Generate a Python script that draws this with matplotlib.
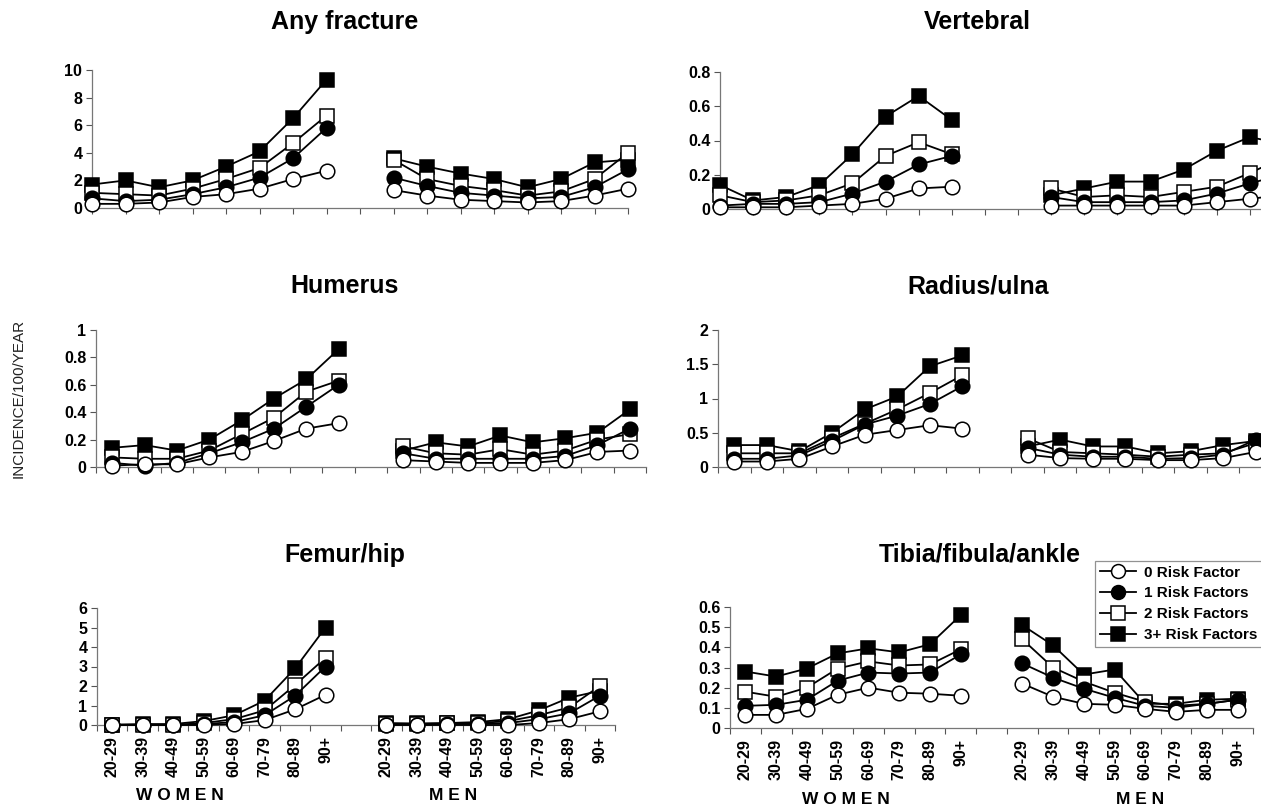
import matplotlib
matplotlib.use('Agg')
import matplotlib.pyplot as plt
from matplotlib.lines import Line2D

plt.rcParams['font.family'] = ['Liberation Sans', 'DejaVu Sans']

W, H = 1261, 807

ages = ['20-29', '30-39', '40-49', '50-59', '60-69', '70-79', '80-89', '90+']
series = ['0 Risk Factor', '1 Risk Factors', '2 Risk Factors', '3+ Risk Factors']

# rows: 0, 1, 2, 3+ risk factors
any_women = [[0.3, 0.3, 0.4, 0.8, 1.0, 1.4, 2.1, 2.7],
             [0.7, 0.5, 0.6, 1.0, 1.5, 2.2, 3.6, 5.8],
             [1.1, 1.0, 0.9, 1.4, 2.1, 2.9, 4.7, 6.7],
             [1.7, 2.0, 1.5, 2.0, 3.0, 4.1, 6.5, 9.3]]
any_men = [[1.3, 0.9, 0.6, 0.5, 0.4, 0.5, 0.9, 1.4],
           [2.2, 1.6, 1.1, 0.9, 0.7, 0.8, 1.5, 2.8],
           [3.5, 2.1, 1.6, 1.3, 0.9, 1.2, 2.1, 4.0],
           [3.6, 3.0, 2.5, 2.1, 1.5, 2.1, 3.3, 3.5]]

vert_women = [[0.01, 0.01, 0.01, 0.02, 0.03, 0.06, 0.12, 0.13],
              [0.02, 0.03, 0.03, 0.04, 0.09, 0.16, 0.26, 0.31],
              [0.08, 0.04, 0.05, 0.08, 0.15, 0.31, 0.39, 0.32],
              [0.14, 0.05, 0.07, 0.14, 0.32, 0.54, 0.66, 0.52]]
vert_men = [[0.02, 0.02, 0.02, 0.02, 0.02, 0.04, 0.06, 0.08],
            [0.07, 0.04, 0.04, 0.04, 0.05, 0.09, 0.15, 0.20],
            [0.12, 0.07, 0.08, 0.07, 0.10, 0.13, 0.21, 0.30],
            [0.08, 0.12, 0.16, 0.16, 0.23, 0.34, 0.42, 0.38]]

hum_women = [[0.01, 0.02, 0.02, 0.07, 0.11, 0.19, 0.28, 0.32],
             [0.03, 0.01, 0.03, 0.10, 0.18, 0.28, 0.44, 0.60],
             [0.07, 0.06, 0.06, 0.12, 0.24, 0.36, 0.55, 0.63],
             [0.14, 0.16, 0.12, 0.20, 0.34, 0.50, 0.64, 0.86]]
hum_men = [[0.05, 0.04, 0.03, 0.03, 0.03, 0.05, 0.11, 0.12],
           [0.10, 0.06, 0.06, 0.06, 0.06, 0.08, 0.16, 0.28],
           [0.15, 0.10, 0.09, 0.13, 0.09, 0.12, 0.20, 0.24],
           [0.12, 0.18, 0.15, 0.23, 0.18, 0.21, 0.25, 0.42]]

rad_women = [[0.08, 0.08, 0.12, 0.30, 0.47, 0.54, 0.61, 0.56],
             [0.12, 0.12, 0.17, 0.38, 0.62, 0.75, 0.92, 1.18],
             [0.20, 0.20, 0.20, 0.42, 0.63, 0.84, 1.08, 1.34],
             [0.32, 0.32, 0.23, 0.50, 0.84, 1.03, 1.47, 1.63]]
rad_men = [[0.18, 0.13, 0.12, 0.12, 0.10, 0.10, 0.13, 0.22],
           [0.28, 0.18, 0.15, 0.15, 0.12, 0.13, 0.18, 0.40],
           [0.42, 0.22, 0.20, 0.18, 0.15, 0.18, 0.20, 0.35],
           [0.30, 0.40, 0.30, 0.30, 0.20, 0.23, 0.32, 0.38]]

fem_women = [[0.0, 0.0, 0.0, 0.0, 0.05, 0.25, 0.8, 1.55],
             [0.0, 0.0, 0.0, 0.05, 0.15, 0.5, 1.5, 3.0],
             [0.0, 0.0, 0.0, 0.1, 0.3, 0.75, 2.05, 3.45],
             [0.02, 0.05, 0.05, 0.2, 0.5, 1.25, 2.9, 5.0]]
fem_men = [[0.0, 0.0, 0.0, 0.0, 0.0, 0.1, 0.3, 0.7],
           [0.02, 0.02, 0.05, 0.05, 0.1, 0.3, 0.6, 1.5],
           [0.05, 0.05, 0.08, 0.1, 0.2, 0.5, 0.9, 2.0],
           [0.1, 0.08, 0.1, 0.15, 0.3, 0.75, 1.4, 1.75]]

tib_women = [[0.065, 0.065, 0.095, 0.165, 0.20, 0.175, 0.17, 0.16],
             [0.11, 0.115, 0.14, 0.235, 0.275, 0.27, 0.275, 0.365],
             [0.18, 0.155, 0.20, 0.295, 0.33, 0.31, 0.315, 0.39],
             [0.28, 0.255, 0.295, 0.37, 0.395, 0.375, 0.415, 0.56]]
tib_men = [[0.22, 0.155, 0.12, 0.115, 0.095, 0.08, 0.09, 0.09],
           [0.32, 0.25, 0.195, 0.15, 0.11, 0.10, 0.12, 0.14],
           [0.44, 0.30, 0.23, 0.175, 0.13, 0.11, 0.12, 0.14],
           [0.51, 0.41, 0.265, 0.29, 0.12, 0.12, 0.14, 0.145]]

markers = ['o', 'o', 's', 's']
faces = ['white', 'black', 'white', 'black']
zorders = [6, 5, 4, 3]

fig = plt.figure(figsize=(W / 100, H / 100), dpi=100)


def px_axes(left, top, right, bottom):
    return fig.add_axes([left / W, 1 - bottom / H, (right - left) / W, (bottom - top) / H])


def panel(title, tx, ty, rect, women, men, ymax, ystep, yfmt, mode, men_start,
          nticks, xlabels=False, wx=None, mx=None, sy=None):
    ax = px_axes(*rect)
    xw = list(range(8))
    xm = list(range(men_start, men_start + 8))
    if mode == 'on':
        ax.set_xlim(0, nticks - 1)
        ax.set_xticks(range(nticks))
        ax.tick_params(axis='x', which='major', length=4, width=0.8, color='#555555',
                       labelbottom=False)
    else:
        ax.set_xlim(-0.5, nticks - 1.5)
        ax.set_xticks([k - 0.5 for k in range(nticks)], minor=True)
        ax.tick_params(axis='x', which='minor', length=4, width=0.8, color='#555555')
        if xlabels:
            ax.set_xticks(xw + xm)
            ax.set_xticklabels(ages + ages, rotation=90, fontsize=11.5, fontweight='bold')
            ax.tick_params(axis='x', which='major', length=0, pad=8)
        else:
            ax.set_xticks([])
    for i in range(4):
        ax.plot(xw, women[i], color='black', lw=1.3, marker=markers[i], ms=10.5,
                mfc=faces[i], mec='black', mew=1.1, zorder=zorders[i], clip_on=False)
        ax.plot(xm, men[i], color='black', lw=1.3, marker=markers[i], ms=10.5,
                mfc=faces[i], mec='black', mew=1.1, zorder=zorders[i], clip_on=False)
    ax.set_ylim(0, ymax)
    nsteps = int(round(ymax / ystep))
    yt = [k * ystep for k in range(nsteps + 1)]
    ax.set_yticks(yt)
    ax.set_yticklabels([yfmt(v) for v in yt], fontsize=11.5, fontweight='bold')
    ax.tick_params(axis='y', length=4, width=0.8, color='#555555', pad=3)
    for s in ['top', 'right']:
        ax.spines[s].set_visible(False)
    for s in ['left', 'bottom']:
        ax.spines[s].set_color('#777777')
        ax.spines[s].set_linewidth(0.9)
    ax.set_facecolor('none')
    fig.text(tx / W, 1 - ty / H, title, ha='center', va='center', fontsize=18,
             fontweight='bold')
    if xlabels:
        fig.text(wx / W, 1 - sy / H, 'W O M E N', ha='center', va='center',
                 fontsize=12.5, fontweight='bold')
        fig.text(mx / W, 1 - sy / H, 'M E N', ha='center', va='center',
                 fontsize=12.5, fontweight='bold')
    return ax


def fmt_int(v):
    return '%d' % round(v)


def fmt_dec(v):
    if abs(v) < 1e-9:
        return '0'
    s = ('%.1f' % v)
    if s.endswith('.0'):
        s = s[:-2]
    return s


panel('Any fracture', 345, 22, (92, 70, 628, 208), any_women, any_men, 10, 2, fmt_int,
      'on', 9, 17)
panel('Vertebral', 977, 22, (720, 72, 1283, 209), vert_women, vert_men, 0.8, 0.2, fmt_dec,
      'on', 10, 18)
panel('Humerus', 345, 286, (96, 330, 646, 467), hum_women, hum_men, 1.0, 0.2, fmt_dec,
      'between', 9, 18)
panel('Radius/ulna', 978, 286, (718, 330, 1272, 467), rad_women, rad_men, 2.0, 0.5, fmt_dec,
      'between', 9, 18)
panel('Femur/hip', 345, 555, (97, 608, 615, 725), fem_women, fem_men, 6, 1, fmt_int,
      'between', 9, 18, xlabels=True, wx=180, mx=453, sy=795)
panel('Tibia/fibula/ankle', 980, 555, (730, 607, 1253, 728), tib_women, tib_men, 0.6, 0.1,
      fmt_dec, 'between', 9, 18, xlabels=True, wx=846, mx=1140, sy=800)

fig.text(19 / W, 1 - 398 / H, 'INCIDENCE/100/YEAR', rotation=90, ha='center', va='center',
         fontsize=11, color='#222222')

handles = [Line2D([0], [0], color='black', lw=1.3, marker=markers[i], ms=10,
                  mfc=faces[i], mec='black', mew=1.1) for i in range(4)]
leg = fig.legend(handles, series, loc='upper left',
                 bbox_to_anchor=(1095 / W, 1 - 561 / H), frameon=True, fancybox=False,
                 edgecolor='#777777', fontsize=11, handlelength=2.4, handletextpad=0.5,
                 labelspacing=0.45, borderpad=0.3, borderaxespad=0)
for t in leg.get_texts():
    t.set_fontweight('bold')
leg.get_frame().set_linewidth(0.9)

fig.savefig('out.png', dpi=100)
